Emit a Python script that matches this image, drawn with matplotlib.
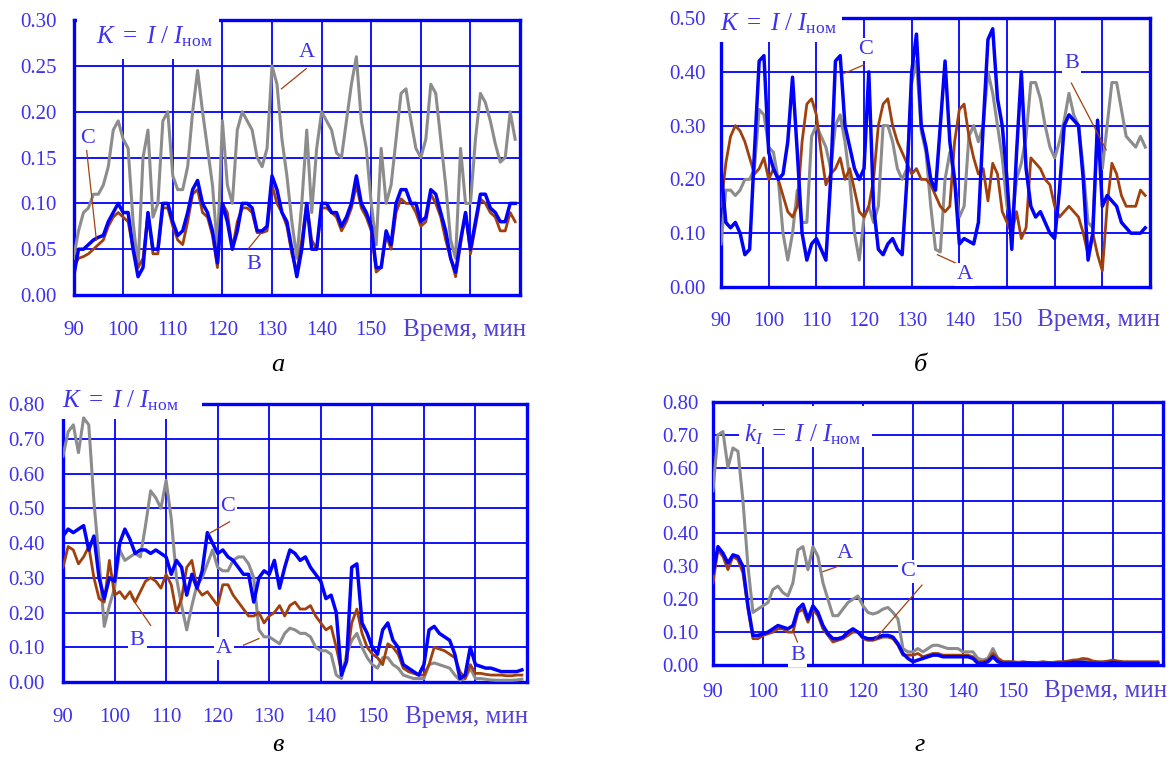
import numpy as np
import matplotlib.pyplot as plt
from matplotlib.patches import Rectangle

plt.rcParams['font.family'] = ['Liberation Serif', 'DejaVu Serif']
plt.rcParams['mathtext.fontset'] = 'custom'
plt.rcParams['mathtext.rm'] = 'Liberation Serif'
plt.rcParams['mathtext.it'] = 'Liberation Serif:italic'

# time axis, one point per minute
minutes = np.arange(90, 180)

# panel a
a_gray = [0.04, 0.07, 0.09, 0.095, 0.11, 0.11, 0.12, 0.14, 0.18, 0.19,
          0.17, 0.16, 0.08, 0.03, 0.15, 0.18, 0.085, 0.10, 0.19, 0.20,
          0.13, 0.115, 0.115, 0.14, 0.20, 0.245, 0.20, 0.16, 0.12, 0.05,
          0.19, 0.12, 0.10, 0.18, 0.20, 0.19, 0.18, 0.15, 0.14, 0.16,
          0.25, 0.23, 0.17, 0.13, 0.08, 0.04, 0.10, 0.18, 0.09, 0.16,
          0.20, 0.19, 0.18, 0.155, 0.15, 0.19, 0.23, 0.26, 0.19, 0.16,
          0.10, 0.055, 0.16, 0.10, 0.12, 0.17, 0.22, 0.225, 0.19, 0.16,
          0.15, 0.17, 0.23, 0.22, 0.17, 0.12, 0.06, 0.04, 0.16, 0.10,
          0.10, 0.17, 0.22, 0.21, 0.19, 0.165, 0.145, 0.15, 0.20, 0.17]
a_brown = [0.03, 0.04, 0.042, 0.045, 0.05, 0.055, 0.06, 0.075, 0.085, 0.09,
           0.085, 0.08, 0.05, 0.03, 0.04, 0.09, 0.045, 0.045, 0.095, 0.095,
           0.075, 0.06, 0.055, 0.08, 0.11, 0.115, 0.09, 0.085, 0.065, 0.03,
           0.10, 0.09, 0.05, 0.08, 0.095, 0.095, 0.09, 0.068, 0.068, 0.07,
           0.12, 0.10, 0.09, 0.075, 0.045, 0.025, 0.06, 0.10, 0.06, 0.05,
           0.095, 0.095, 0.09, 0.085, 0.07, 0.08, 0.095, 0.12, 0.095, 0.085,
           0.07, 0.025, 0.03, 0.065, 0.05, 0.09, 0.105, 0.10, 0.10, 0.09,
           0.075, 0.08, 0.11, 0.10, 0.085, 0.06, 0.04, 0.02, 0.055, 0.09,
           0.045, 0.075, 0.105, 0.10, 0.09, 0.085, 0.07, 0.07, 0.09, 0.08]
a_blue = [0.02, 0.05, 0.05, 0.055, 0.06, 0.063, 0.065, 0.08, 0.09, 0.10,
          0.09, 0.09, 0.05, 0.02, 0.03, 0.09, 0.05, 0.05, 0.10, 0.10,
          0.08, 0.065, 0.07, 0.09, 0.115, 0.125, 0.10, 0.09, 0.07, 0.035,
          0.10, 0.08, 0.05, 0.07, 0.10, 0.10, 0.095, 0.07, 0.07, 0.075,
          0.13, 0.115, 0.09, 0.08, 0.05, 0.02, 0.05, 0.10, 0.05, 0.05,
          0.10, 0.10, 0.09, 0.09, 0.075, 0.085, 0.10, 0.13, 0.10, 0.09,
          0.075, 0.03, 0.03, 0.07, 0.055, 0.10, 0.115, 0.115, 0.10, 0.10,
          0.08, 0.085, 0.115, 0.11, 0.09, 0.07, 0.04, 0.025, 0.06, 0.09,
          0.05, 0.08, 0.11, 0.11, 0.095, 0.09, 0.08, 0.08, 0.10, 0.10]

# panel b
b_gray = [0.08, 0.18, 0.18, 0.17, 0.18, 0.20, 0.20, 0.22, 0.33, 0.32,
          0.26, 0.25, 0.20, 0.10, 0.05, 0.10, 0.18, 0.12, 0.12, 0.28,
          0.30, 0.28, 0.26, 0.22, 0.30, 0.32, 0.27, 0.20, 0.10, 0.05,
          0.13, 0.15, 0.12, 0.15, 0.30, 0.30, 0.27, 0.22, 0.20, 0.22,
          0.38, 0.42, 0.29, 0.25, 0.15, 0.07, 0.065, 0.20, 0.25, 0.20,
          0.13, 0.15, 0.28, 0.30, 0.27, 0.30, 0.40, 0.36, 0.30, 0.24,
          0.15, 0.12, 0.20, 0.23, 0.28, 0.38, 0.38, 0.35, 0.30, 0.26,
          0.24, 0.27, 0.31, 0.36, 0.32, 0.30, 0.22, 0.12, 0.11, 0.30,
          0.22, 0.30, 0.38, 0.38, 0.33, 0.28, 0.27, 0.26, 0.28, 0.26]
b_brown = [0.15, 0.23, 0.28, 0.30, 0.29, 0.27, 0.24, 0.21, 0.22, 0.24,
           0.20, 0.22, 0.20, 0.17, 0.14, 0.13, 0.15, 0.27, 0.34, 0.35,
           0.32, 0.25, 0.19, 0.21, 0.22, 0.24, 0.20, 0.22, 0.18, 0.14,
           0.13, 0.15, 0.20, 0.30, 0.34, 0.35, 0.30, 0.27, 0.25, 0.23,
           0.21, 0.22, 0.20, 0.20, 0.19, 0.17, 0.15, 0.14, 0.15, 0.27,
           0.33, 0.34, 0.28, 0.24, 0.21, 0.22, 0.16, 0.23, 0.21, 0.14,
           0.12, 0.10, 0.14, 0.09, 0.11, 0.24, 0.23, 0.22, 0.20, 0.19,
           0.15, 0.13, 0.14, 0.15, 0.14, 0.13, 0.10, 0.06, 0.10, 0.06,
           0.03, 0.15, 0.23, 0.21, 0.17, 0.15, 0.15, 0.15, 0.18, 0.17]
b_blue = [0.22, 0.12, 0.11, 0.12, 0.10, 0.06, 0.07, 0.25, 0.42, 0.43,
          0.25, 0.22, 0.20, 0.21, 0.27, 0.39, 0.25, 0.10, 0.05, 0.08,
          0.09, 0.07, 0.05, 0.20, 0.42, 0.43, 0.30, 0.26, 0.22, 0.20,
          0.22, 0.40, 0.15, 0.07, 0.06, 0.08, 0.09, 0.07, 0.06, 0.20,
          0.40, 0.47, 0.30, 0.26, 0.20, 0.18, 0.30, 0.42, 0.27, 0.20,
          0.08, 0.09, 0.085, 0.08, 0.12, 0.30, 0.46, 0.48, 0.35, 0.30,
          0.20, 0.07, 0.25, 0.40, 0.22, 0.15, 0.13, 0.14, 0.12, 0.10,
          0.09, 0.18, 0.30, 0.32, 0.31, 0.30, 0.20, 0.05, 0.10, 0.31,
          0.15, 0.17, 0.16, 0.15, 0.12, 0.11, 0.10, 0.10, 0.10, 0.11]

# panel c
c_gray = [0.65, 0.72, 0.74, 0.66, 0.76, 0.74, 0.52, 0.35, 0.16, 0.22,
          0.27, 0.38, 0.35, 0.36, 0.37, 0.36, 0.45, 0.55, 0.53, 0.50,
          0.58, 0.47, 0.30, 0.22, 0.15, 0.22, 0.28, 0.30, 0.34, 0.38,
          0.33, 0.32, 0.32, 0.35, 0.36, 0.36, 0.34, 0.30, 0.15, 0.13,
          0.13, 0.12, 0.11, 0.14, 0.155, 0.15, 0.14, 0.14, 0.13, 0.10,
          0.09, 0.09, 0.08, 0.02, 0.01, 0.08, 0.12, 0.14, 0.10, 0.07,
          0.05, 0.04, 0.07, 0.07, 0.05, 0.04, 0.02, 0.015, 0.01, 0.01,
          0.01, 0.05, 0.055, 0.05, 0.045, 0.04, 0.02, 0.005, 0.01, 0.04,
          0.01, 0.01, 0.008, 0.006, 0.005, 0.005, 0.005, 0.005, 0.006, 0.008]
c_brown = [0.33, 0.39, 0.38, 0.34, 0.36, 0.39, 0.30, 0.24, 0.23, 0.35,
           0.25, 0.26, 0.24, 0.26, 0.23, 0.26, 0.29, 0.30, 0.29, 0.27,
           0.31, 0.28, 0.20, 0.24, 0.33, 0.35, 0.27, 0.25, 0.26, 0.24,
           0.22, 0.28, 0.28, 0.25, 0.23, 0.21, 0.19, 0.19, 0.20, 0.17,
           0.19, 0.20, 0.22, 0.19, 0.22, 0.23, 0.21, 0.21, 0.22, 0.19,
           0.17, 0.15, 0.16, 0.10, 0.03, 0.06, 0.17, 0.21, 0.14, 0.10,
           0.08, 0.07, 0.05, 0.11, 0.10, 0.08, 0.04, 0.03, 0.025, 0.02,
           0.02, 0.05, 0.10, 0.095, 0.09, 0.08, 0.07, 0.03, 0.01, 0.05,
           0.025, 0.025, 0.022, 0.02, 0.02, 0.02, 0.018, 0.018, 0.02, 0.02]
c_blue = [0.42, 0.44, 0.43, 0.44, 0.45, 0.38, 0.42, 0.30, 0.24, 0.30,
          0.29, 0.40, 0.44, 0.41, 0.37, 0.38, 0.38, 0.37, 0.38, 0.37,
          0.36, 0.31, 0.35, 0.33, 0.25, 0.31, 0.27, 0.32, 0.43, 0.40,
          0.37, 0.38, 0.36, 0.35, 0.33, 0.31, 0.31, 0.23, 0.30, 0.32,
          0.31, 0.35, 0.27, 0.33, 0.38, 0.37, 0.35, 0.36, 0.33, 0.31,
          0.29, 0.24, 0.25, 0.20, 0.02, 0.06, 0.33, 0.34, 0.17, 0.14,
          0.10, 0.08, 0.15, 0.17, 0.12, 0.10, 0.05, 0.04, 0.03, 0.02,
          0.05, 0.15, 0.16, 0.14, 0.13, 0.12, 0.08, 0.01, 0.02, 0.10,
          0.05, 0.045, 0.04, 0.04, 0.035, 0.03, 0.03, 0.03, 0.03, 0.035]

# panel d
d_gray = [0.53, 0.70, 0.71, 0.60, 0.66, 0.65, 0.50, 0.30, 0.16, 0.17,
          0.18, 0.19, 0.23, 0.24, 0.22, 0.21, 0.25, 0.35, 0.36, 0.29,
          0.36, 0.33, 0.25, 0.20, 0.15, 0.15, 0.17, 0.19, 0.20, 0.21,
          0.18, 0.16, 0.155, 0.16, 0.17, 0.175, 0.16, 0.14, 0.05, 0.04,
          0.04, 0.05, 0.04, 0.05, 0.06, 0.06, 0.055, 0.05, 0.05, 0.05,
          0.04, 0.04, 0.04, 0.02, 0.015, 0.02, 0.05, 0.02, 0.01, 0.01,
          0.008, 0.008, 0.007, 0.007, 0.006, 0.006, 0.006, 0.006, 0.006, 0.006,
          0.006, 0.008, 0.01, 0.01, 0.012, 0.01, 0.008, 0.008, 0.008, 0.01,
          0.01, 0.008, 0.008, 0.008, 0.006, 0.006, 0.006, 0.006, 0.006, 0.006]
d_brown = [0.25, 0.35, 0.33, 0.29, 0.33, 0.32, 0.28, 0.17, 0.08, 0.08,
           0.09, 0.095, 0.10, 0.11, 0.11, 0.10, 0.10, 0.16, 0.17, 0.13,
           0.17, 0.15, 0.11, 0.09, 0.07, 0.075, 0.08, 0.09, 0.10, 0.10,
           0.08, 0.075, 0.075, 0.08, 0.085, 0.085, 0.08, 0.06, 0.03, 0.03,
           0.03, 0.035, 0.025, 0.03, 0.035, 0.035, 0.03, 0.03, 0.03, 0.03,
           0.03, 0.03, 0.025, 0.01, 0.01, 0.015, 0.035, 0.02, 0.01, 0.01,
           0.01, 0.008, 0.01, 0.008, 0.008, 0.008, 0.01, 0.008, 0.008, 0.01,
           0.01, 0.012, 0.015, 0.016, 0.02, 0.018, 0.012, 0.01, 0.01, 0.012,
           0.015, 0.012, 0.01, 0.01, 0.01, 0.01, 0.01, 0.01, 0.01, 0.01]
d_blue = [0.28, 0.36, 0.34, 0.31, 0.335, 0.33, 0.30, 0.18, 0.09, 0.09,
          0.095, 0.10, 0.11, 0.12, 0.115, 0.11, 0.12, 0.17, 0.185, 0.14,
          0.18, 0.16, 0.12, 0.095, 0.08, 0.08, 0.085, 0.10, 0.11, 0.10,
          0.085, 0.08, 0.08, 0.085, 0.09, 0.09, 0.085, 0.065, 0.035, 0.02,
          0.01, 0.015, 0.02, 0.025, 0.03, 0.03, 0.025, 0.025, 0.025, 0.025,
          0.025, 0.025, 0.02, 0.005, 0.005, 0.01, 0.025, 0.01, 0.005, 0.005,
          0.005, 0.004, 0.005, 0.006, 0.005, 0.004, 0.005, 0.005, 0.004, 0.005,
          0.005, 0.006, 0.008, 0.008, 0.008, 0.006, 0.005, 0.005, 0.004, 0.005,
          0.008, 0.006, 0.005, 0.005, 0.005, 0.005, 0.005, 0.005, 0.005, 0.005]

x_ticks = [90, 100, 110, 120, 130, 140, 150]
captions = ['а', 'б', 'в', 'г']

BLUE = '#0000ff'
GRAY = '#8c8c8c'
BROWN = '#a0410d'
TXT = '#3d30f0'

fig = plt.figure(figsize=(11.73, 7.6), dpi=100)


def panel(rect, gray, brown, blue, ymax, ystep, label, cover, letters, xpad, ypad):
    ax = fig.add_axes(rect)
    ax.plot(minutes, gray, color=GRAY, lw=2.2, zorder=4)
    ax.plot(minutes, brown, color=BROWN, lw=2.0, zorder=4)
    ax.plot(minutes, blue, color=BLUE, lw=2.5, zorder=4)
    ax.set_xlim(90, 180)
    ax.set_ylim(0, ymax)
    ax.set_xticks(np.arange(90, 181, 10))
    ax.set_xticklabels([str(t) if t in x_ticks else '' for t in range(90, 181, 10)])
    yt = np.arange(0, ymax + 1e-9, ystep)
    ax.set_yticks(yt)
    ax.set_yticklabels(['%.2f' % v for v in yt])
    ax.grid(True, color=BLUE, lw=1.3)
    ax.set_axisbelow(True)
    for s in ax.spines.values():
        s.set_color(BLUE)
        s.set_linewidth(2.4)
    ax.tick_params(length=0, labelsize=15, labelcolor=TXT)
    ax.tick_params(axis='x', pad=xpad)
    ax.tick_params(axis='y', pad=ypad)
    ax.annotate('Время, мин', xy=(156.3, 0), xycoords=ax.get_xaxis_transform(),
                xytext=(0, -xpad + 2), textcoords='offset points',
                color='#5040d8', fontsize=18, ha='left', va='top')
    # white patch under the formula
    (x0, y0, x1, y1), (tx, ty) = cover
    ax.add_patch(Rectangle((x0, y0), x1 - x0, y1 - y0, facecolor='white',
                           edgecolor='none', zorder=3, clip_on=False))
    ax.text(tx, ty, label, color=TXT, fontsize=18, ha='left', va='center', zorder=6,
            clip_on=False)
    for name, pos, p0, p1 in letters:
        ax.plot([p0[0], p1[0]], [p0[1], p1[1]], color=BROWN, lw=0.9, zorder=5)
        ax.text(pos[0], pos[1], name, color=TXT, fontsize=16, ha='center', va='center',
                zorder=6, bbox=dict(facecolor='white', edgecolor='none', pad=1.5))
    return ax


formula = r'$K\ =\ I\ /\ I_{\mathrm{ном}}$'

panel([0.0627, 0.6118, 0.3807, 0.3618], a_gray, a_brown, a_blue, 0.30, 0.05, formula,
      ((90.7, 0.258, 119.4, 0.31), (94.5, 0.282)),
      [('A', (137, 0.265), (136.9, 0.247), (131.9, 0.225)),
       ('C', (92.9, 0.171), (92.6, 0.16), (94.6, 0.06)),
       ('B', (126.3, 0.033), (125.3, 0.051), (127.7, 0.067))], 19, 12)

panel([0.6147, 0.6224, 0.3657, 0.3539], b_gray, b_brown, b_blue, 0.50, 0.10, formula,
      ((89.0, 0.455, 115.4, 0.54), (89.8, 0.49)),
      [('C', (120.4, 0.441), (120.0, 0.413), (115.8, 0.397)),
       ('B', (163.5, 0.416), (163.5, 0.379), (170.8, 0.255)),
       ('A', (141.2, 0.023), (139.6, 0.043), (135.4, 0.06))], 18, 11)

panel([0.0537, 0.1026, 0.3956, 0.3658], c_gray, c_brown, c_blue, 0.80, 0.10, formula,
      ((89.0, 0.757, 117.0, 0.86), (89.8, 0.81)),
      [('C', (122.0, 0.504), (122.3, 0.461), (118.3, 0.427)),
       ('B', (104.4, 0.12), (107.0, 0.163), (103.2, 0.245)),
       ('A', (121.2, 0.096), (125.0, 0.106), (128.0, 0.125))], 19, 13)

panel([0.6078, 0.125, 0.3836, 0.3461], d_gray, d_brown, d_blue, 0.80, 0.10,
      r'$k_{I}\ =\ I\ /\ I_{\mathrm{ном}}$',
      ((95.3, 0.663, 121.9, 0.787), (96.3, 0.70)),
      [('A', (116.4, 0.339), (115.0, 0.30), (112.0, 0.284)),
       ('C', (129.0, 0.284), (131.8, 0.243), (122.3, 0.076)),
       ('B', (106.9, 0.03), (106.9, 0.07), (106.2, 0.096))], 13, 10)

for (px, py), cap in zip([(278, 365), (920, 365), (278, 745), (920, 745)], captions):
    fig.text(px / 1173, 1 - py / 760, cap, fontsize=19, style='italic', color='black',
             ha='center', va='center')

fig.savefig('out.png', dpi=100)
